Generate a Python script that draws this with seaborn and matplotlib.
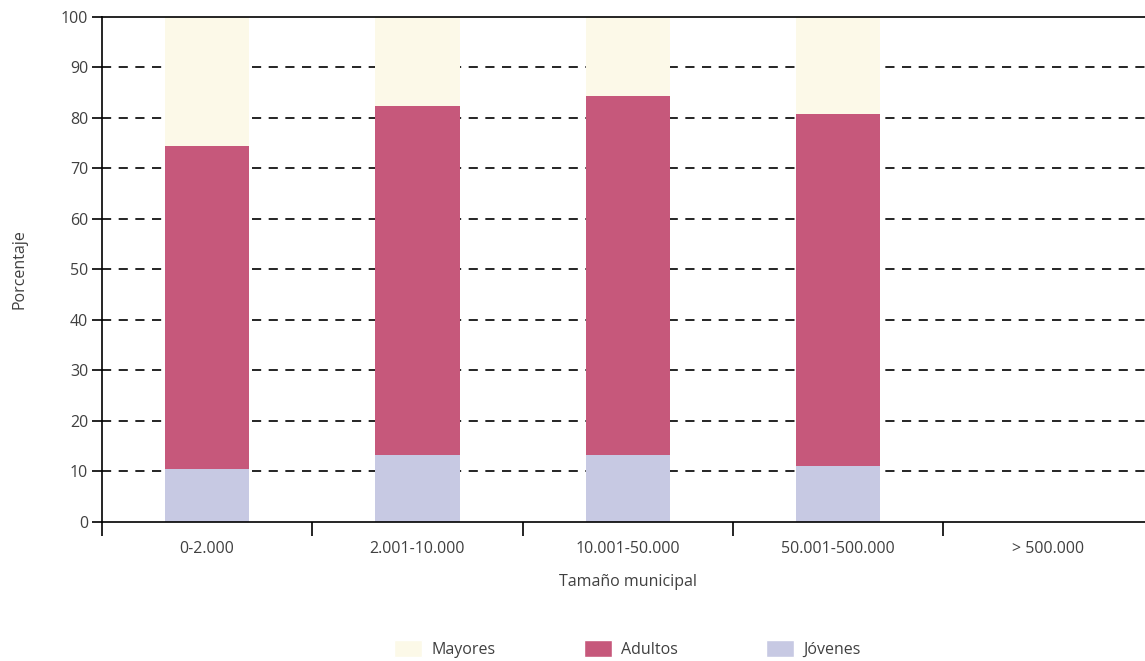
import pandas as pd
import numpy as np
import matplotlib.pyplot as plt
import seaborn as sns
from matplotlib.patches import Patch

# Datos
categorias = ['0-2.000', '2.001-10.000', '10.001-50.000', '50.001-500.000', '> 500.000']
jovenes = [10.5, 13.3, 13.3, 11.1]
adultos = [64.0, 69.1, 71.1, 69.7]
mayores = [25.5, 17.6, 15.6, 19.2]

grupos = categorias[:4]
df = pd.DataFrame({'cat': grupos, 'Jóvenes': jovenes, 'Adultos': adultos, 'Mayores': mayores})
df['cum_jov'] = df['Jóvenes']
df['cum_adu'] = df['Jóvenes'] + df['Adultos']
df['cum_may'] = df['cum_adu'] + df['Mayores']

col_may = '#FCF9E8'
col_adu = '#C6587B'
col_jov = '#C7C9E3'
gris = '#404040'

sns.set_style('white')
plt.rcParams['font.family'] = ['Open Sans', 'DejaVu Sans']

fig = plt.figure(figsize=(11.45, 6.61), dpi=100)
# el eje se extiende un poco mas alla del borde derecho, como en el original
ax = fig.add_axes([0.0891, 0.2103, 0.9183, 0.764])

# gridlines discontinuas detras de las barras
for v in range(10, 100, 10):
    ax.axhline(v, color='black', lw=1.2, ls=(0, (5.5, 4.5)), zorder=0)

sns.barplot(data=df, x='cat', y='cum_may', order=categorias, color=col_may,
            width=0.4, saturation=1, linewidth=0, ax=ax, zorder=2)
sns.barplot(data=df, x='cat', y='cum_adu', order=categorias, color=col_adu,
            width=0.4, saturation=1, linewidth=0, ax=ax, zorder=3)
sns.barplot(data=df, x='cat', y='cum_jov', order=categorias, color=col_jov,
            width=0.4, saturation=1, linewidth=0, ax=ax, zorder=4)

ax.set_xlim(-0.5, 4.5)
ax.set_ylim(0, 100)
ax.set_yticks(range(0, 101, 10))
ax.set_xticks(range(5))
ax.set_xticklabels(categorias)
ax.set_xticks(np.arange(-0.5, 4.6, 1), minor=True)
ax.tick_params(axis='x', which='major', length=0, pad=14, labelsize=11.5, labelcolor=gris)
ax.tick_params(axis='x', which='minor', length=10, width=1.2, color='black', direction='out')
ax.tick_params(axis='y', length=7, width=1.2, color='black', direction='out',
               labelsize=11.5, labelcolor=gris, pad=3)
ax.tick_params(bottom=True, left=True, which='both')

for s in ['left', 'bottom', 'top']:
    ax.spines[s].set_color('black')
    ax.spines[s].set_linewidth(1.2)
    ax.spines[s].set_zorder(5)
ax.spines['right'].set_visible(False)

ax.set_xlabel('Tamaño municipal', fontsize=11.5, color=gris, labelpad=12)
ax.set_ylabel('Porcentaje', fontsize=11.5, color=gris, labelpad=24)

handles = [Patch(facecolor=col_may, label='Mayores'),
           Patch(facecolor=col_adu, label='Adultos'),
           Patch(facecolor=col_jov, label='Jóvenes')]
fig.legend(handles=handles, loc='lower center', ncol=3, frameon=False,
           bbox_to_anchor=(0.548, -0.017), fontsize=11.5, labelcolor=gris,
           handlelength=1.75, handleheight=1.3, columnspacing=5.5, handletextpad=0.6)

fig.savefig('out.png', dpi=100)
